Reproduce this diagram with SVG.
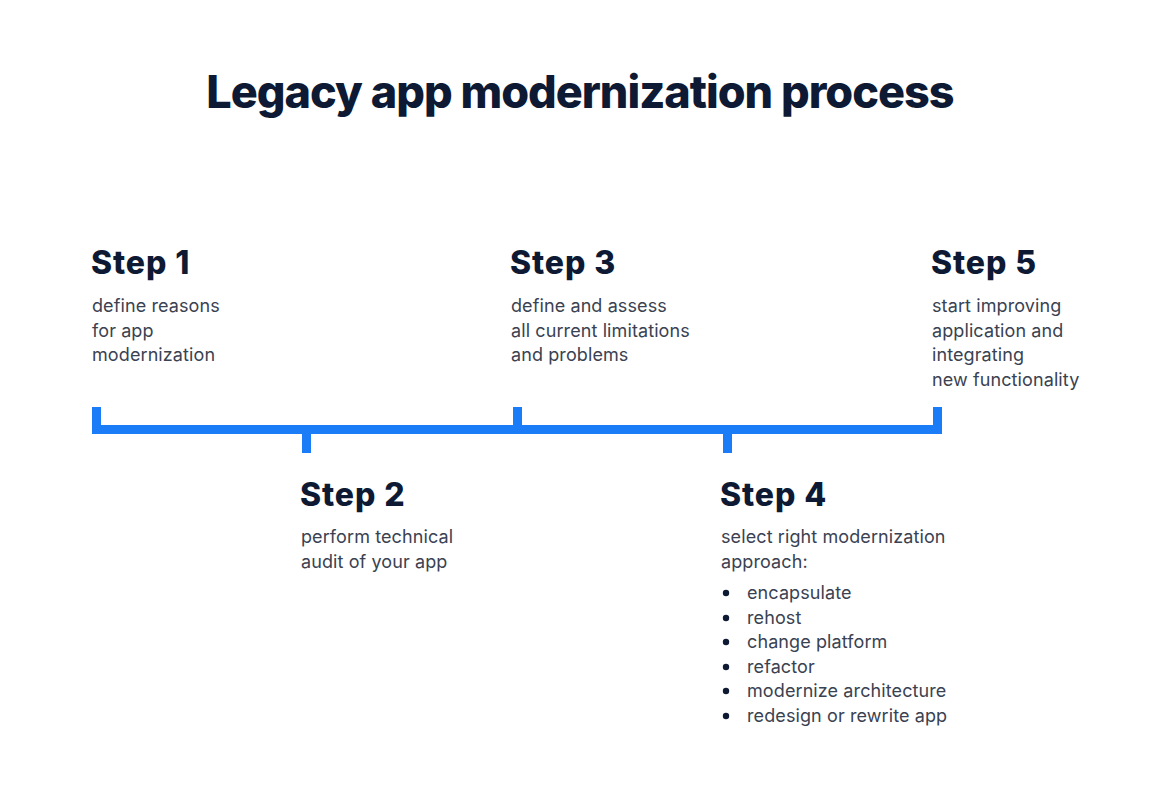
<svg xmlns="http://www.w3.org/2000/svg" width="1162" height="800" viewBox="0 0 1162 800">
<style>
.title{font-family:Inter,"Liberation Sans",sans-serif;font-weight:800;font-size:45px;letter-spacing:-1px;fill:#0e1a33}
.h{font-family:Inter,"Liberation Sans",sans-serif;font-weight:800;font-size:32px;letter-spacing:0.9px;fill:#0e1a33}
.b{font-family:Inter,"Liberation Sans",sans-serif;font-weight:400;font-size:18px;letter-spacing:0.1px;fill:#3a4252}
.bar{fill:#1a7cf6}
</style>
<rect width="1162" height="800" fill="#ffffff"/>
<text class="title" x="580" y="108" text-anchor="middle">Legacy app modernization process</text>
<g id="connectors">
<rect class="bar" x="92" y="425" width="850" height="9"/>
<rect class="bar" x="92" y="407" width="9" height="27"/>
<rect class="bar" x="302" y="425" width="9" height="28"/>
<rect class="bar" x="513" y="407" width="9" height="27"/>
<rect class="bar" x="723" y="425" width="9" height="28"/>
<rect class="bar" x="933" y="407" width="9" height="27"/>
</g>
<g id="step1">
<text class="h" x="91" y="274">Step 1</text>
<text class="b" x="92" y="312">define reasons</text>
<text class="b" x="92" y="336.5">for app</text>
<text class="b" x="92" y="361">modernization</text>
</g>
<g id="step2">
<text class="h" x="300" y="506">Step 2</text>
<text class="b" x="301" y="543">perform technical</text>
<text class="b" x="301" y="568">audit of your app</text>
</g>
<g id="step3">
<text class="h" x="510" y="274">Step 3</text>
<text class="b" x="511" y="312">define and assess</text>
<text class="b" x="511" y="336.5">all current limitations</text>
<text class="b" x="511" y="361">and problems</text>
</g>
<g id="step4">
<text class="h" x="720" y="506">Step 4</text>
<text class="b" x="721" y="543">select right modernization</text>
<text class="b" x="721" y="568">approach:</text>
<g fill="#0e1a33">
<circle cx="726" cy="593" r="3.2"/>
<circle cx="726" cy="618" r="3.2"/>
<circle cx="726" cy="642" r="3.2"/>
<circle cx="726" cy="667" r="3.2"/>
<circle cx="726" cy="691" r="3.2"/>
<circle cx="726" cy="716" r="3.2"/>
</g>
<text class="b" x="747" y="599">encapsulate</text>
<text class="b" x="747" y="624">rehost</text>
<text class="b" x="747" y="648">change platform</text>
<text class="b" x="747" y="673">refactor</text>
<text class="b" x="747" y="697">modernize architecture</text>
<text class="b" x="747" y="722">redesign or rewrite app</text>
</g>
<g id="step5">
<text class="h" x="931" y="274">Step 5</text>
<text class="b" x="932" y="312">start improving</text>
<text class="b" x="932" y="336.5">application and</text>
<text class="b" x="932" y="361">integrating</text>
<text class="b" x="932" y="385.5">new functionality</text>
</g>
</svg>
